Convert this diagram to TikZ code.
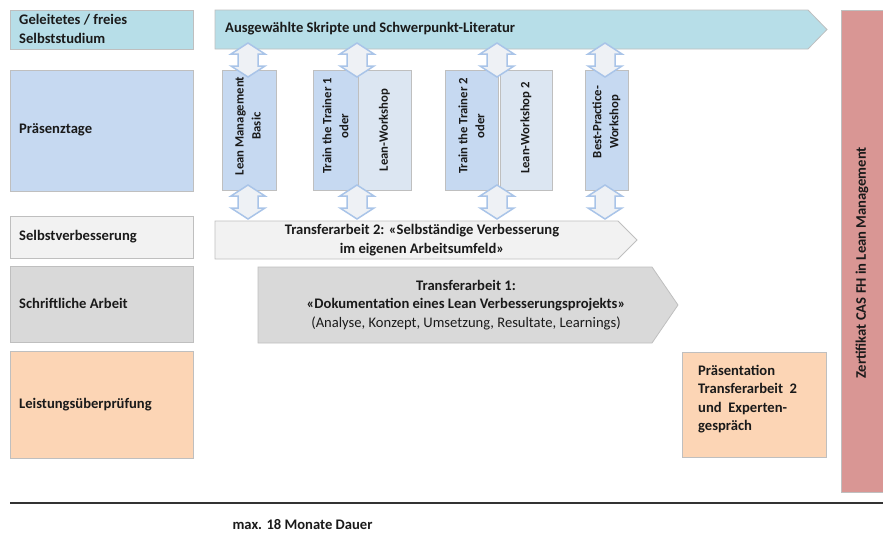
\documentclass[tikz,border=0pt]{standalone}
\usepackage{fontspec}
\setmainfont{Carlito}
\definecolor{cyanbox}{HTML}{B7DEE8}
\definecolor{bluebox}{HTML}{C6D9F1}
\definecolor{lightblue}{HTML}{DCE6F2}
\definecolor{lightgray}{HTML}{F2F2F2}
\definecolor{midgray}{HTML}{D9D9D9}
\definecolor{peach}{HTML}{FCD5B5}
\definecolor{rose}{HTML}{D99694}
\definecolor{bordergray}{HTML}{BFBFBF}
\definecolor{txt}{HTML}{1A1A1A}
\definecolor{arrowblue}{HTML}{A9C4E8}
\definecolor{arrowfill}{HTML}{EEF1F5}
\tikzset{
  box/.style={draw=bordergray, line width=0.8pt},
  lbl/.style={font=\bfseries\fontsize{14.6}{18.3}\selectfont, text=txt, inner sep=0pt, align=left, anchor=west},
  clbl/.style={font=\bfseries\fontsize{14.6}{18.3}\selectfont, text=txt, inner sep=0pt, align=center},
  vlbl/.style={font=\bfseries\fontsize{12.7}{17}\selectfont, text=txt, inner sep=0pt, align=center, rotate=90},
  dbl/.style={draw=arrowblue, fill=arrowfill, line width=1.5pt, line join=miter}
}
\newcommand\DArrow[3]{%
  \draw[dbl] (#1,#2) -- ++(17,11) -- ++(-7,0) -- (#1+10,#3-11) -- ++(7,0) -- (#1,#3)
    -- ++(-17,-11) -- ++(7,0) -- (#1-10,#2+11) -- ++(-7,0) -- cycle;}
\begin{document}
\begin{tikzpicture}[x=1pt,y=-1pt]
\useasboundingbox (0,0) rectangle (883,533);
% left column
\draw[box, fill=cyanbox] (10,10) rectangle (193,49);
\draw[box, fill=bluebox] (10,70) rectangle (193,191);
\draw[box, fill=lightgray] (10,216) rectangle (193,258);
\draw[box, fill=midgray] (10,266) rectangle (193,342);
\draw[box, fill=peach] (10,351) rectangle (193,458);
\node[lbl] (l1) at (19,29) {Geleitetes / freies\\Selbststudium};
\node[lbl] (l2) at (19,130) {Präsenztage};
\node[lbl] (l3) at (19,237) {Selbstverbesserung};
\node[lbl] (l4) at (19,303) {Schriftliche Arbeit};
\node[lbl] (l5) at (19,405) {Leistungsüberprüfung};
% top arrow
\draw[box, fill=cyanbox] (215,10) -- (808,10) -- (827,29.5) -- (808,49) -- (215,49) -- cycle;
\node[lbl] (lit) at (225,29) {Ausgewählte Skripte und Schwerpunkt-Literatur};
% certificate bar
\draw[box, fill=rose] (841,10) rectangle (885,492);
\node[vlbl, font=\bfseries\fontsize{14.6}{17}\selectfont] (cert) at (862,263) {Zertifikat CAS FH in Lean Management};
% transfer arrows
\draw[box, fill=lightgray] (215,221) -- (618,221) -- (637,240) -- (618,259) -- (215,259) -- cycle;
\node[clbl] (t2) at (422,240) {Transferarbeit 2: «Selbständige Verbesserung\\im eigenen Arbeitsumfeld»};
\draw[box, fill=midgray] (258,267) -- (652,267) -- (678,305) -- (652,343) -- (258,343) -- cycle;
\node[clbl] (t1) at (466,305) {Transferarbeit 1:\\«Dokumentation eines Lean Verbesserungsprojekts»\\{\mdseries (Analyse, Konzept, Umsetzung, Resultate, Learnings)}};
% presentation box
\draw[box, fill=peach] (682,352) rectangle (826,457);
\node[lbl] (pres) at (698,399) {Präsentation\\Transferarbeit\ \ 2\\und\ \ Experten-\\gespräch};
% presence boxes
\draw[box, fill=bluebox] (222,70) rectangle (276,190);
\draw[box, fill=bluebox] (313,70) rectangle (358,190);
\draw[box, fill=lightblue] (358,70) rectangle (411,190);
\draw[box, fill=bluebox] (445,70) rectangle (498,190);
\draw[box, fill=lightblue] (500,70) rectangle (552,190);
\draw[box, fill=bluebox] (585,70) rectangle (628,190);
\node[vlbl] (p1) at (248,126) {Lean Management\\Basic};
\node[vlbl] (p2) at (335.5,126) {Train the Trainer 1\\oder};
\node[vlbl] (p3) at (384.5,130) {Lean-Workshop};
\node[vlbl] (p4) at (471.5,126) {Train the Trainer 2\\oder};
\node[vlbl] (p5) at (526,128) {Lean-Workshop 2};
\node[vlbl] (p6) at (606.5,122) {Best-Practice-\\Workshop};
% double arrows
\DArrow{248}{43}{77}
\DArrow{357}{43}{77}
\DArrow{497}{43}{77}
\DArrow{605}{43}{77}
\DArrow{248}{185}{219}
\DArrow{357}{185}{219}
\DArrow{497}{185}{219}
\DArrow{605}{185}{219}
% time line
\draw[line width=2.5pt, color=black!80] (10,503) -- (885,503);
\node[clbl] (dur) at (302.5,525) {max. 18 Monate Dauer};
\end{tikzpicture}
\end{document}
